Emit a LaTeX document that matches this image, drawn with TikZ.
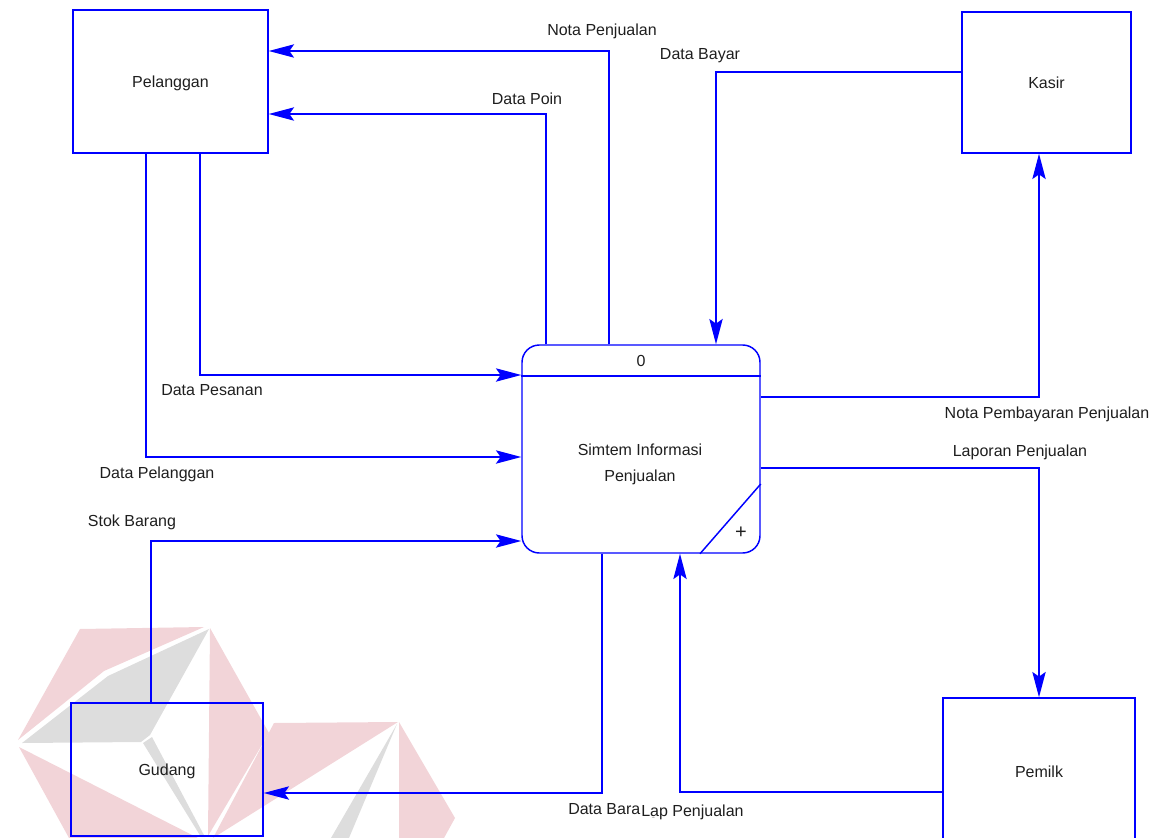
\documentclass[tikz,border=0pt]{standalone}
\usepackage{fontspec}
\setmainfont{Liberation Sans}
\usetikzlibrary{arrows.meta}
\definecolor{dfdblue}{RGB}{0,0,255}
\definecolor{wmpink}{RGB}{242,212,216}
\definecolor{wmgray}{RGB}{221,221,221}
\definecolor{txt}{RGB}{30,30,30}
\begin{document}
\begin{tikzpicture}[x=0.75pt,y=-0.75pt,
  font=\fontsize{12}{14}\selectfont,
  every node/.style={text=txt},
  entity/.style={draw=dfdblue, line width=1.1pt, rectangle, inner sep=0pt, text height=8.6pt, text depth=0pt},
  process/.style={draw=dfdblue, line width=1.1pt, rectangle, rounded corners=13pt, inner sep=0pt},
  flow/.style={draw=dfdblue, line width=1.1pt, -{Stealth[length=19pt,width=10pt,inset=3.5pt]}},
  thinline/.style={draw=dfdblue, line width=1.1pt},
  lbl/.style={inner sep=0pt}]
\useasboundingbox (0,0) rectangle (1159,838);
\clip (0,0) rectangle (1159,838);

% logo in the background, lower left
\fill[wmpink] (80,629) -- (204,627) -- (104,671) -- (18,740) -- cycle;
\fill[wmgray] (209,629) -- (108,676) -- (22,743) -- (141,742) -- (150,735) -- cycle;
\fill[wmpink] (19,747) -- (198,838) -- (69,838) -- cycle;
\fill[wmgray] (143,743) -- (152,737) -- (205,837) -- (201,837) -- cycle;
\fill[wmpink] (210,628) -- (269,733) -- (208,836) -- cycle;
\fill[wmpink] (274,723) -- (398,722) -- (213,838) -- cycle;
\fill[wmgray] (397,724) -- (331,838) -- (349,838) -- cycle;
\fill[wmpink] (399,722) -- (455,818) -- (444,838) -- (399,838) -- cycle;

% external entities
\node[entity, minimum width=146.25pt, minimum height=107.25pt] (pel) at (170.5,81.5) {Pelanggan};
\node[entity, minimum width=126.75pt, minimum height=105.75pt] (kas) at (1046.5,82.5) {Kasir};
\node[entity, minimum width=144pt, minimum height=99.75pt] (gud) at (167,769.5) {Gudang};
\node[entity, minimum width=144pt, minimum height=110.25pt] (pem) at (1039,771.5) {Pemilk};

% process 0
\node[process, minimum width=178.5pt, minimum height=156pt] (proc) at (641,449) {};
\draw[thinline] (proc.west |- 0,376) -- (proc.east |- 0,376);
\draw[thinline] (proc.south -| 700,0) -- (proc.east |- 0,484);
\node[lbl] (procid) at (641,361) {0};
\node[lbl, align=center, font=\fontsize{12}{19.5}\selectfont] (procname) at (640,464) {Simtem Informasi\\Penjualan};
\node[lbl, font=\fontsize{15}{15}\selectfont] (procplus) at (741,533) {+};

% data flows
\draw[flow] (proc.north -| 609,0) |- (pel.east |- 0,51);
\draw[flow] (proc.north -| 546,0) |- (pel.east |- 0,114);
\draw[flow] (kas.west |- 0,72) -| (proc.north -| 716,0);
\draw[flow] (proc.east |- 0,397) -| (kas.south -| 1039,0);
\draw[flow] (proc.east |- 0,468) -| (pem.north -| 1039,0);
\draw[flow] (pem.west |- 0,792) -| (proc.south -| 680,0);
\draw[flow] (proc.south -| 602,0) |- (gud.east |- 0,793);
\draw[flow] (gud.north -| 151,0) |- (proc.west |- 0,541);
\draw[flow] (pel.south -| 146,0) |- (proc.west |- 0,457);
\draw[flow] (pel.south -| 200,0) |- (proc.west |- 0,375);

% flow labels
\node[lbl] (lnota) at (602,31) {Nota Penjualan};
\node[lbl] (lbayar) at (700,56) {Data Bayar};
\node[lbl] (lpoin) at (527,99) {Data Poin};
\node[lbl] (lpesan) at (212,390) {Data Pesanan};
\node[lbl] (lpelang) at (157,474) {Data Pelanggan};
\node[lbl] (lstok) at (132,522) {Stok Barang};
\node[lbl] (lnotabayar) at (1047,414) {Nota Pembayaran Penjualan};
\node[lbl] (llaporan) at (1020,452) {Laporan Penjualan};
\node[lbl, anchor=west] (lbarang) at (568,811) {Data Barang};
\node[lbl, anchor=west, fill=white, text depth=0pt] (llap) at (641,811) {Lap Penjualan};
\end{tikzpicture}
\end{document}
